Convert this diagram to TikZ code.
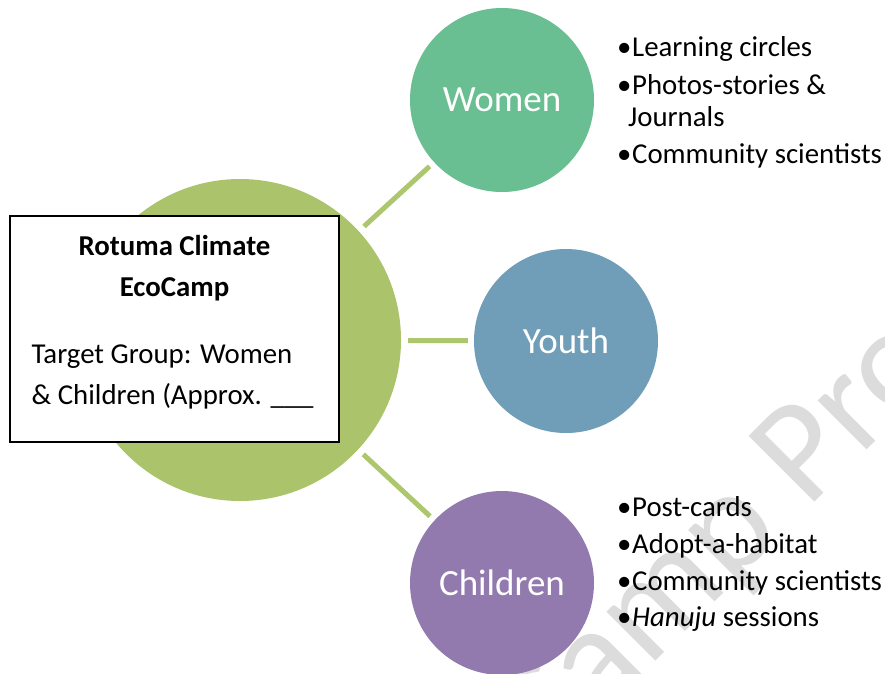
\documentclass[tikz,border=0pt]{standalone}
\usepackage{fontspec}
\setmainfont{Carlito}
\definecolor{biggreen}{RGB}{171,196,108}
\definecolor{womencol}{RGB}{105,190,146}
\definecolor{youthcol}{RGB}{112,158,184}
\definecolor{childcol}{RGB}{146,122,175}
\definecolor{linkcol}{RGB}{172,199,110}
\definecolor{wmark}{RGB}{220,220,220}
\newcommand\wbullet{\makebox[15pt][l]{•}}
\tikzset{
  hub/.style={circle, fill=biggreen, minimum size=322pt, inner sep=0pt, draw=none},
  group/.style={circle, minimum size=184pt, inner sep=0pt, draw=none, text=white, font=\fontsize{37}{42}\selectfont},
  link/.style={draw=linkcol, line width=5pt, shorten <=7pt, shorten >=6pt},
  item/.style={anchor=base west, inner sep=0pt, font=\fontsize{28.8}{34}\selectfont},
  boxtext/.style={inner sep=0pt, font=\fontsize{28.8}{34}\selectfont},
  infobox/.style={draw=black, line width=1.3pt, fill=white, minimum width=329pt, minimum height=226pt, inner sep=0pt}
}
\begin{document}
\begin{tikzpicture}[x=1pt,y=-1pt]
\useasboundingbox (0,0) rectangle (885,673);
\clip (0,0) rectangle (885,673);
\fill[white] (0,0) rectangle (885,673);
% watermark
\node[anchor=base west, inner sep=0pt, rotate=45, text=wmark, font=\fontsize{145}{145}\selectfont] (wm) at (545,772) {Camp Pro};
% circles
\node[hub] (hub) at (240,340) {};
\node[group, fill=womencol] (women) at (502,100) {Women};
\node[group, fill=youthcol] (youth) at (566,341) {Youth};
\node[group, fill=childcol] (children) at (502,583) {Children};
% connectors
\draw[link] (hub) -- (women);
\draw[link] (hub) -- (youth);
\draw[link] (hub) -- (children);
% info box
\node[infobox] (box) at (174.5,329) {};
\node[boxtext, anchor=base, font=\fontsize{28.8}{34}\selectfont\bfseries] (t1) at (174.5,255) {Rotuma Climate};
\node[boxtext, anchor=base, font=\fontsize{28.8}{34}\selectfont\bfseries] (t2) at (174.5,296.7) {EcoCamp};
\node[boxtext, anchor=base west] (t3) at (31.5,363.5) {Target Group: Women};
\node[boxtext, anchor=base west] (t4) at (31.5,404) {\& Children (Approx. \_\_\_};
% women list
\node[item] (w1) at (617,56.7) {\wbullet Learning circles};
\node[item] (w2) at (617,94) {\wbullet Photos-stories \&};
\node[item] (w3) at (628,126.7) {Journals};
\node[item] (w4) at (617,163) {\wbullet Community scientists};
% children list
\node[item] (c1) at (617,516.7) {\wbullet Post-cards};
\node[item] (c2) at (617,553) {\wbullet Adopt-a-habitat};
\node[item] (c3) at (617,590) {\wbullet Community scientists};
\node[item] (c4) at (617,626.7) {\wbullet \textit{Hanuju} sessions};
\end{tikzpicture}
\end{document}
